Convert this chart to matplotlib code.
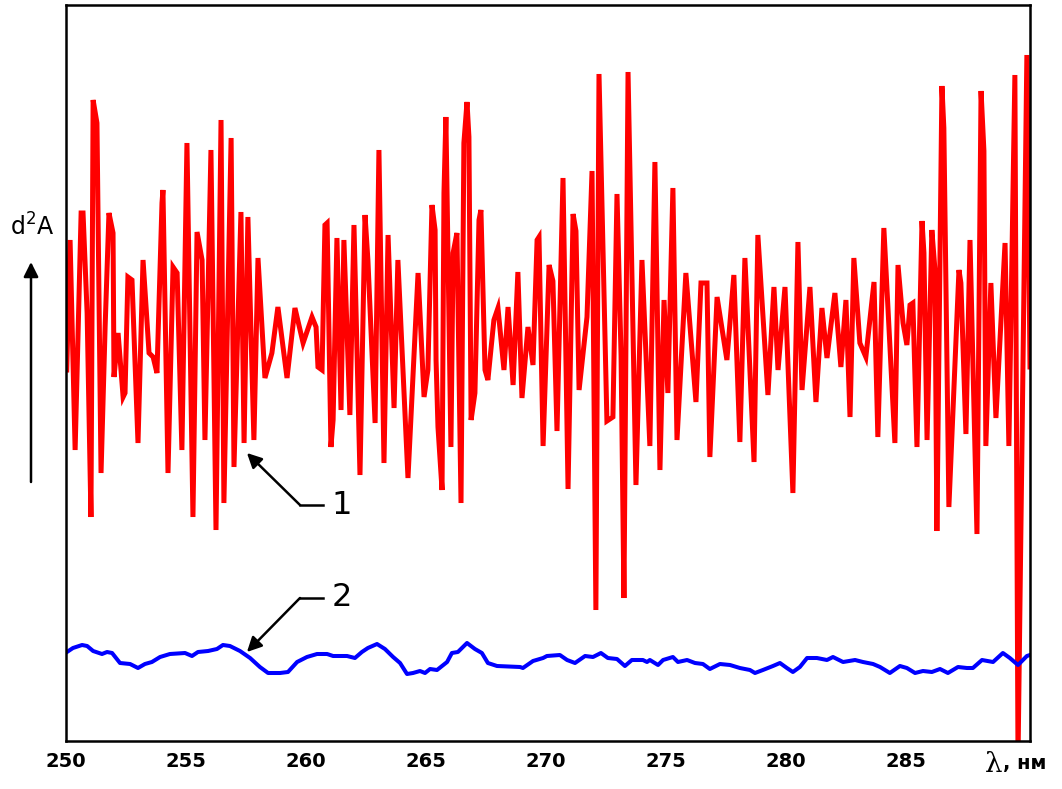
import matplotlib.pyplot as plt

# Кривая 1: вторая производная спектра поглощения (отн. ед.)
lam1 = [250.03, 250.17, 250.38, 250.63, 250.71, 250.88, 251.04, 251.13, 251.29, 251.46,
        251.63, 251.79, 251.96, 252.00, 252.17, 252.38, 252.46, 252.58, 252.75, 253.00,
        253.21, 253.46, 253.63, 253.79, 254.00, 254.04, 254.25, 254.46, 254.63, 254.83,
        255.04, 255.29, 255.46, 255.67, 255.79, 256.04, 256.25, 256.46, 256.58, 256.88,
        257.00, 257.29, 257.42, 257.58, 257.83, 258.00, 258.29, 258.58, 258.83, 259.21,
        259.54, 259.88, 260.25, 260.42, 260.50, 260.67, 260.79, 260.88, 261.04, 261.13,
        261.29, 261.46, 261.58, 261.83, 262.00, 262.25, 262.46, 262.58, 262.88, 263.04,
        263.25, 263.42, 263.67, 263.83, 264.25, 264.67, 264.92, 265.08, 265.25, 265.38,
        265.42, 265.50, 265.67, 265.75, 265.83, 266.04, 266.13, 266.29, 266.46, 266.58,
        266.71, 266.79, 266.88, 267.04, 267.21, 267.29, 267.46, 267.58, 267.83, 268.00,
        268.25, 268.42, 268.63, 268.83, 269.00, 269.25, 269.46, 269.63, 269.71, 269.88,
        270.13, 270.29, 270.46, 270.71, 270.92, 271.13, 271.25, 271.38, 271.71, 271.92,
        272.08, 272.21, 272.54, 272.79, 272.96, 273.13, 273.25, 273.42, 273.75, 274.00,
        274.33, 274.54, 274.75, 274.92, 275.08, 275.29, 275.46, 275.83, 276.25, 276.46,
        276.71, 276.83, 277.13, 277.54, 277.83, 278.08, 278.29, 278.67, 278.83, 279.25,
        279.50, 279.67, 279.96, 280.29, 280.50, 280.67, 281.00, 281.25, 281.50, 281.71,
        282.04, 282.29, 282.50, 282.67, 282.83, 283.08, 283.33, 283.67, 283.83, 284.08,
        284.54, 284.67, 284.88, 285.04, 285.17, 285.29, 285.46, 285.67, 285.75, 285.88,
        286.08, 286.21, 286.29, 286.50, 286.58, 286.79, 287.21, 287.29, 287.50, 287.67,
        287.96, 288.13, 288.25, 288.33, 288.54, 288.75, 289.13, 289.29, 289.54, 289.67,
        290.04, 290.17]
d2a1 = [371, 501, 291, 528, 528, 428, 224, 641, 618, 268,
        414, 528, 508, 364, 408, 344, 348, 464, 461, 298,
        481, 388, 384, 368, 538, 551, 268, 474, 468, 291,
        598, 224, 509, 481, 301, 591, 211, 621, 238, 603,
        274, 529, 298, 524, 301, 483, 363, 388, 434, 363,
        433, 398, 424, 414, 374, 371, 516, 518, 294, 321,
        503, 331, 501, 326, 516, 266, 526, 481, 318, 591,
        278, 506, 333, 481, 263, 468, 344, 371, 536, 511,
        381, 314, 251, 548, 624, 294, 488, 508, 238, 598,
        639, 604, 321, 348, 521, 531, 371, 361, 421, 433,
        371, 434, 356, 469, 343, 414, 376, 501, 504, 295,
        476, 460, 310, 563, 252, 527, 510, 351, 424, 570,
        131, 667, 320, 324, 547, 385, 143, 669, 256, 481,
        295, 579, 271, 441, 348, 553, 301, 468, 339, 458,
        458, 284, 444, 381, 466, 299, 483, 279, 506, 346,
        454, 371, 454, 248, 499, 351, 454, 339, 433, 383,
        448, 374, 441, 324, 483, 398, 384, 459, 304, 513,
        298, 476, 418, 396, 436, 438, 294, 520, 488, 301,
        511, 471, 210, 655, 613, 234, 471, 458, 307, 501,
        207, 650, 590, 295, 458, 323, 498, 295, 666, -19,
        686, 374]

# Кривая 2
lam2 = [250.04, 250.29, 250.67, 250.88, 251.13, 251.50, 251.71, 251.92, 252.25, 252.67,
        253.00, 253.29, 253.58, 253.92, 254.33, 254.96, 255.25, 255.50, 255.92, 256.29,
        256.54, 256.83, 257.25, 257.67, 258.08, 258.42, 258.92, 259.25, 259.63, 260.04,
        260.46, 260.88, 261.13, 261.71, 262.04, 262.33, 262.58, 262.96, 263.29, 263.63,
        263.92, 264.21, 264.46, 264.75, 264.96, 265.17, 265.46, 265.88, 266.08, 266.33,
        266.71, 267.04, 267.33, 267.58, 267.96, 268.92, 269.04, 269.46, 269.88, 270.04,
        270.58, 270.88, 271.21, 271.63, 271.96, 272.29, 272.58, 272.96, 273.29, 273.58,
        274.04, 274.21, 274.33, 274.67, 274.88, 275.29, 275.50, 275.88, 276.21, 276.54,
        276.83, 277.25, 277.67, 278.08, 278.50, 278.71, 279.04, 279.46, 279.75, 280.04,
        280.29, 280.58, 280.88, 281.29, 281.71, 281.96, 282.38, 282.88, 283.21, 283.63,
        283.92, 284.33, 284.75, 285.04, 285.38, 285.71, 286.08, 286.42, 286.75, 287.17,
        287.54, 287.79, 288.17, 288.63, 289.04, 289.33, 289.67, 290.04, 290.17]
d2a2 = [89, 93, 96, 95, 90, 87, 89, 88, 78, 77,
        73, 77, 79, 84, 87, 88, 85, 89, 90, 92,
        96, 95, 90, 83, 74, 68, 68, 69, 79, 84,
        87, 87, 85, 85, 83, 89, 93, 97, 92, 84,
        78, 67, 68, 70, 68, 72, 71, 79, 88, 89,
        98, 92, 88, 78, 75, 74, 73, 80, 83, 85,
        86, 81, 78, 85, 84, 88, 83, 82, 75, 81,
        81, 79, 81, 76, 81, 84, 79, 81, 78, 77,
        72, 77, 76, 73, 71, 68, 71, 75, 78, 73,
        69, 74, 83, 83, 81, 84, 79, 81, 79, 77,
        74, 68, 75, 73, 68, 70, 69, 72, 68, 74,
        73, 73, 81, 79, 88, 83, 76, 85, 86]

ticks = [250, 255, 260, 265, 270, 275, 280, 285]

fig = plt.figure(figsize=(10.62, 7.89), dpi=100)
ax = fig.add_axes([66 / 1062, 48 / 789, 964 / 1062, 736 / 789])

ax.plot(lam1, d2a1, color="red", linewidth=3.6, solid_joinstyle="miter")
ax.plot(lam2, d2a2, color="blue", linewidth=2.9)

ax.set_xlim(250, 290.17)
ax.set_ylim(0, 736)
ax.set_yticks([])
ax.set_xticks(ticks)
ax.set_xticklabels([str(t) for t in ticks], fontsize=14, fontweight="bold")
ax.tick_params(axis="x", direction="in", length=0, pad=8)
for s in ax.spines.values():
    s.set_linewidth(1.8)

# подпись оси абсцисс на месте последней метки
ax.text(0.9715, -0.013, "λ", transform=ax.transAxes, fontsize=20, family="DejaVu Serif",
        ha="right", va="top")
ax.text(0.972, -0.017, ", нм", transform=ax.transAxes, fontsize=14, fontweight="bold",
        ha="left", va="top")

# ось ординат: стрелка и подпись
fig.text(10 / 1062, 1 - 236 / 789, "d$^2$A", fontsize=17, ha="left", va="baseline")
ax.annotate("", xy=(31 / 1062, 1 - 262 / 789), xytext=(31 / 1062, 1 - 482 / 789),
            xycoords="figure fraction", textcoords="figure fraction",
            arrowprops=dict(arrowstyle="-|>", color="black", lw=1.8,
                            mutation_scale=22, shrinkA=0, shrinkB=0))

# выноски с номерами кривых
for tip, knee, end, num in [((257.54, 288), (259.75, 236), 260.71, "1"),
                            ((257.54, 89), (259.75, 143), 260.71, "2")]:
    ax.plot([knee[0], end], [knee[1], knee[1]], color="black", lw=1.8)
    ax.annotate("", xy=tip, xytext=knee,
                arrowprops=dict(arrowstyle="-|>", color="black", lw=1.8,
                                mutation_scale=22, shrinkA=0, shrinkB=0))
    ax.text(end + 0.35, knee[1], num, fontsize=23, ha="left", va="center")

fig.savefig("out.png", dpi=100)
